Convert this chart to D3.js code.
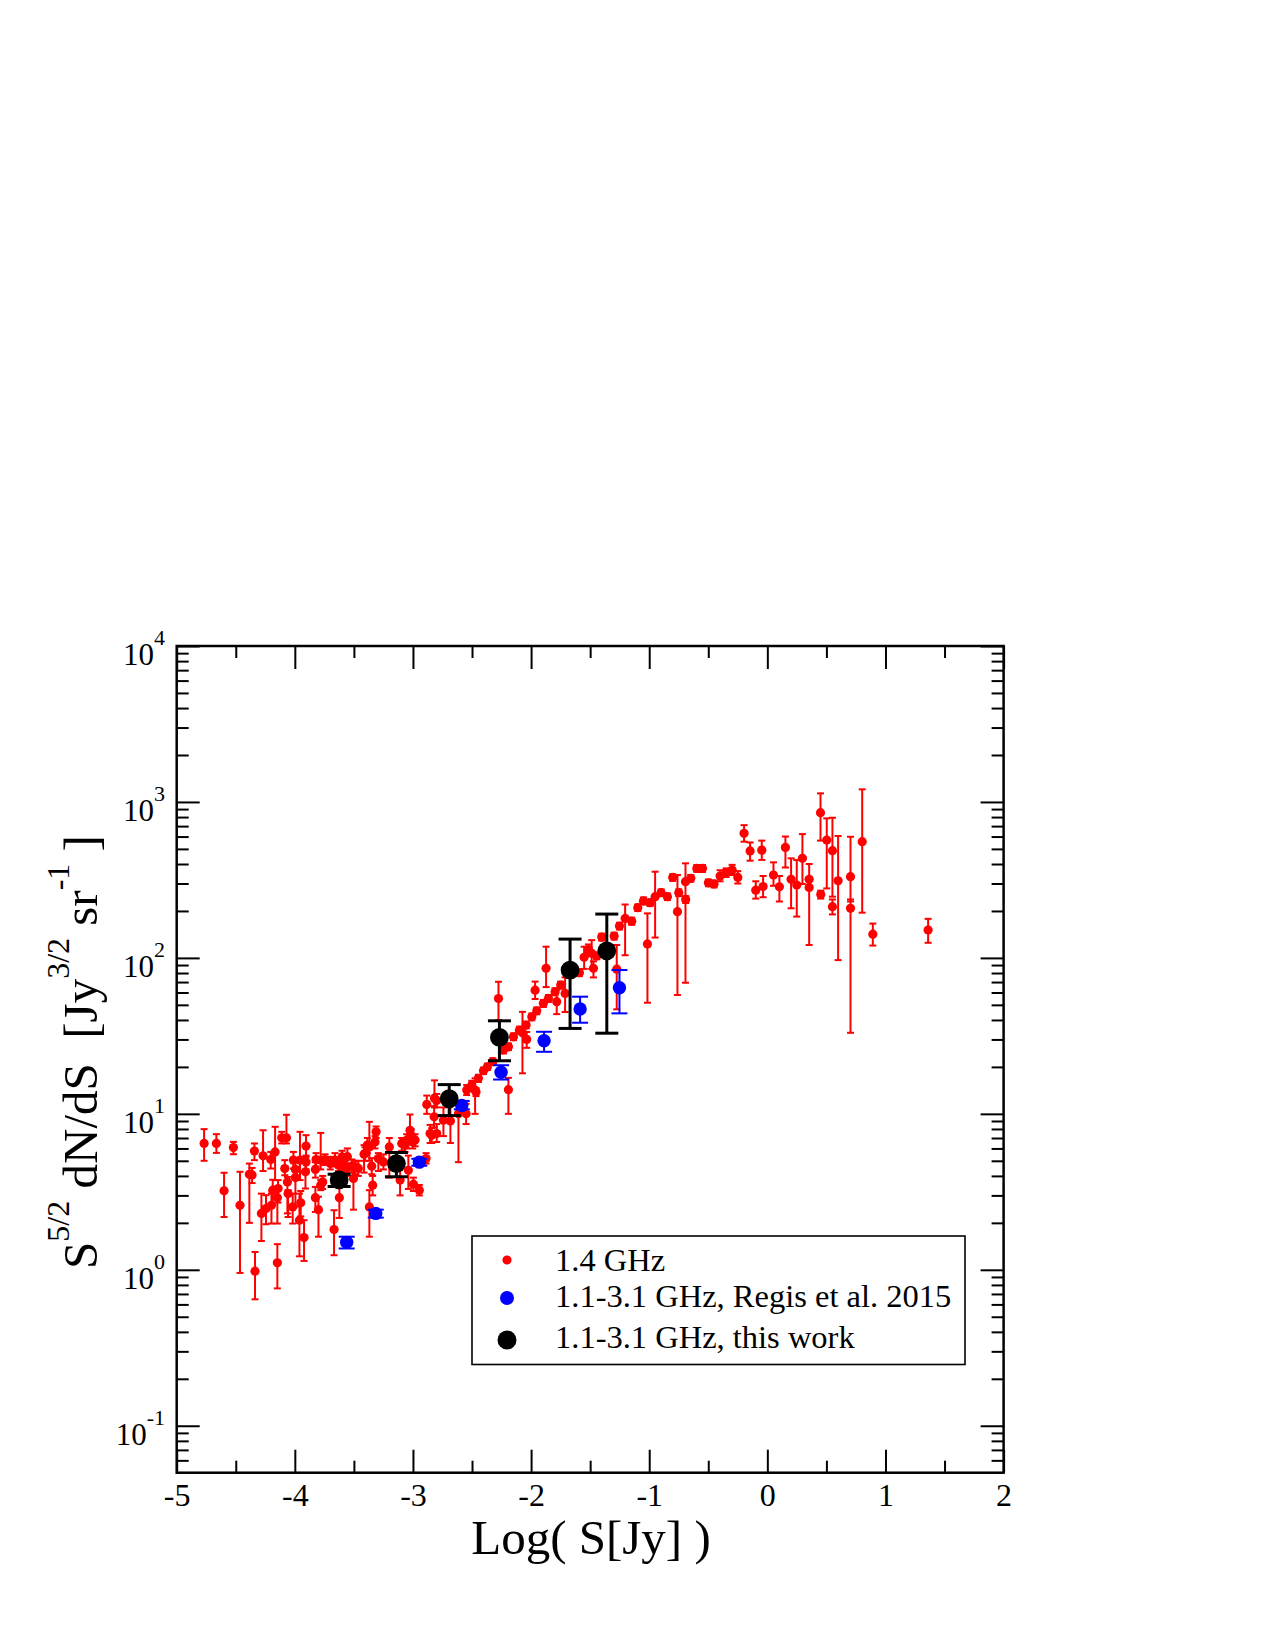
<!DOCTYPE html>
<html>
<head>
<meta charset="utf-8">
<script src="https://cdn.jsdelivr.net/npm/d3@7"></script>
<style>
  html, body { margin: 0; padding: 0; background: #fff; }
  svg { display: block; }
  svg text { font-family: "Liberation Serif", "Times New Roman", serif; white-space: pre; }
</style>
</head>
<body>
<svg id="chart" width="1275" height="1650"></svg>
<script>
// ---------------- data ----------------
const xMajorTicks = [-5, -4, -3, -2, -1, 0, 1, 2];
const xMinorTicks = [-4.5, -3.5, -2.5, -1.5, -0.5, 0.5, 1.5];
const yTickExponents = [-1, 0, 1, 2, 3, 4];

const legendLabels = ["1.4 GHz", "1.1-3.1 GHz, Regis et al. 2015", "1.1-3.1 GHz, this work"];

// [log S, S^{5/2} dN/dS, lower, upper]
const red14GHz = [
  [-4.768, 6.46, 5.00, 7.98], [-4.664, 6.46, 5.62, 7.41], [-4.599, 3.21, 2.18, 4.19],
  [-4.520, 6.08, 5.51, 6.61], [-4.464, 2.59, 0.955, 4.25], [-4.385, 4.10, 2.00, 4.80],
  [-4.362, 4.06, 3.60, 4.50], [-4.342, 5.77, 5.05, 6.46], [-4.337, 0.98, 0.647, 1.30],
  [-4.283, 2.30, 1.53, 3.08], [-4.269, 5.38, 4.30, 7.85], [-4.244, 2.47, 1.96, 3.01],
  [-4.204, 5.09, 4.46, 5.70], [-4.198, 2.59, 1.98, 3.08], [-4.187, 3.24, 2.60, 3.78],
  [-4.167, 5.70, 3.76, 8.26], [-4.148, 1.11, 0.76, 1.46], [-4.148, 2.90, 1.98, 3.40],
  [-4.142, 3.32, 2.70, 3.76], [-4.111, 7.02, 6.46, 7.67], [-4.085, 4.46, 4.04, 5.05],
  [-4.071, 7.02, 6.46, 9.86], [-4.063, 3.66, 2.30, 3.94], [-4.057, 3.08, 2.18, 3.24],
  [-4.018, 2.53, 1.98, 3.08], [-4.012, 5.05, 4.46, 5.70], [-3.995, 4.40, 3.90, 5.00],
  [-3.995, 3.91, 2.54, 4.57], [-3.961, 2.08, 1.22, 3.08], [-3.956, 5.05, 3.76, 7.67],
  [-3.950, 2.69, 2.20, 3.20], [-3.922, 1.61, 1.14, 2.08], [-3.910, 4.25, 3.32, 5.30],
  [-3.905, 6.21, 5.30, 7.30], [-3.905, 4.92, 4.40, 5.40], [-3.826, 4.40, 3.90, 4.90],
  [-3.826, 2.90, 2.35, 3.40], [-3.820, 5.09, 4.60, 5.60], [-3.800, 2.43, 1.63, 2.94],
  [-3.781, 5.05, 4.40, 7.55], [-3.781, 3.49, 3.24, 3.76], [-3.764, 3.66, 3.30, 4.00],
  [-3.744, 5.09, 4.70, 5.50], [-3.700, 4.80, 4.40, 5.30], [-3.668, 1.81, 1.24, 2.41],
  [-3.660, 5.05, 4.60, 5.60], [-3.630, 4.69, 4.30, 5.10], [-3.623, 2.90, 2.15, 3.55],
  [-3.600, 5.30, 4.80, 5.80], [-3.595, 4.81, 4.40, 5.30], [-3.565, 4.40, 4.00, 4.80],
  [-3.555, 5.31, 4.60, 6.00], [-3.518, 4.62, 4.20, 5.10], [-3.504, 3.85, 2.43, 4.80],
  [-3.490, 4.57, 4.10, 5.00], [-3.462, 4.47, 4.00, 5.00], [-3.414, 5.51, 4.20, 6.30],
  [-3.406, 5.57, 5.00, 6.10], [-3.386, 6.31, 5.60, 7.00], [-3.369, 6.14, 5.00, 8.89],
  [-3.369, 2.53, 1.63, 3.24], [-3.349, 4.62, 4.10, 5.20], [-3.341, 3.49, 3.00, 4.00],
  [-3.321, 6.61, 6.00, 7.20], [-3.312, 7.67, 7.00, 8.30], [-3.293, 5.17, 4.30, 5.60],
  [-3.250, 4.92, 4.40, 5.50], [-3.200, 6.14, 3.90, 7.00], [-3.109, 3.76, 3.00, 4.80],
  [-3.095, 6.46, 5.80, 7.00], [-3.067, 6.30, 5.70, 6.90], [-3.053, 6.78, 6.00, 7.40],
  [-3.039, 4.35, 3.30, 5.40], [-3.025, 7.85, 6.80, 9.90], [-3.016, 7.30, 6.60, 8.00],
  [-3.002, 6.61, 6.00, 7.20], [-2.996, 3.54, 3.20, 3.90], [-2.982, 6.80, 6.20, 7.40],
  [-2.946, 3.24, 3.00, 3.50], [-2.889, 5.17, 4.80, 5.60], [-2.883, 11.5, 10.0, 13.1],
  [-2.855, 7.48, 6.50, 8.50], [-2.841, 7.30, 6.50, 8.10], [-2.821, 9.57, 8.20, 11.2],
  [-2.818, 12.6, 11.0, 16.4], [-2.799, 7.48, 6.60, 8.60], [-2.799, 12.2, 11.0, 13.4],
  [-2.742, 9.10, 7.20, 11.0], [-2.683, 9.00, 6.50, 12.2], [-2.615, 10.0, 4.90, 11.6],
  [-2.550, 10.0, 8.60, 11.6], [-2.545, 14.2, 13.2, 15.3], [-2.502, 15.3, 14.3, 16.3],
  [-2.474, 14.2, 10.0, 16.9], [-2.466, 13.8, 13.0, 14.6], [-2.446, 16.9, 16.0, 17.8],
  [-2.403, 18.9, 18.0, 19.8], [-2.370, 20.0, 19.1, 21.0], [-2.324, 21.6, 20.6, 22.7],
  [-2.276, 54.9, 39.9, 70.3], [-2.234, 25.7, 24.4, 27.0], [-2.192, 26.9, 25.6, 28.3],
  [-2.192, 14.3, 10.0, 17.0], [-2.149, 31.2, 29.7, 32.8], [-2.099, 34.4, 32.7, 36.2],
  [-2.073, 33.1, 18.2, 45.1], [-2.042, 37.1, 35.3, 39.0], [-2.037, 30.0, 26.5, 33.5],
  [-1.994, 41.9, 39.8, 44.0], [-1.966, 62.1, 54.5, 70.5], [-1.952, 45.8, 43.5, 48.1],
  [-1.896, 51.1, 48.5, 53.7], [-1.873, 85.7, 65.0, 118], [-1.853, 55.0, 52.2, 57.8],
  [-1.797, 60.7, 57.6, 63.8], [-1.783, 52.4, 43.6, 62.5], [-1.749, 67.0, 63.6, 70.4],
  [-1.712, 59.2, 45.0, 75.0], [-1.591, 80.4, 76.4, 84.4], [-1.551, 101, 85, 118],
  [-1.515, 113, 103, 122], [-1.487, 107, 85, 130], [-1.472, 85.7, 75, 95],
  [-1.444, 103, 98, 108], [-1.402, 136, 129, 143], [-1.297, 138, 131, 145],
  [-1.275, 84.7, 46.8, 121], [-1.252, 160, 152, 168], [-1.204, 179, 104, 220],
  [-1.148, 172, 163, 181], [-1.097, 210, 200, 220], [-1.049, 232, 220, 244],
  [-1.015, 123, 51.6, 193], [-0.993, 226, 215, 237], [-0.950, 247, 135, 357],
  [-0.899, 262, 249, 275], [-0.846, 247, 235, 259], [-0.801, 328, 312, 344],
  [-0.761, 198, 57.8, 340], [-0.750, 262, 249, 275], [-0.693, 308, 69.3, 404],
  [-0.691, 237, 225, 249], [-0.648, 324, 308, 340], [-0.597, 375, 356, 394],
  [-0.549, 375, 356, 394], [-0.499, 303, 288, 318], [-0.451, 298, 283, 313],
  [-0.400, 335, 310, 365], [-0.349, 352, 330, 375], [-0.298, 366, 340, 395],
  [-0.250, 328, 300, 360], [-0.197, 629, 556, 710], [-0.146, 485, 420, 550],
  [-0.098, 272, 240, 310], [-0.047, 491, 425, 565], [-0.036, 287, 245, 335],
  [0.052, 340, 290, 410], [0.102, 286, 230, 335], [0.153, 511, 380, 600],
  [0.201, 319, 208, 435], [0.249, 293, 184, 424], [0.297, 435, 298, 622],
  [0.354, 319, 280, 400], [0.354, 283, 121, 330], [0.450, 853, 565, 1135],
  [0.452, 255, 240, 270], [0.503, 570, 279, 785], [0.551, 487, 247, 792],
  [0.551, 213, 190, 237], [0.599, 312, 96.8, 605], [0.704, 332, 230, 598],
  [0.704, 208, 33.1, 237], [0.803, 556, 195, 1205], [0.893, 142, 120, 166],
  [1.361, 151, 125, 178]
];

const blueRegis2015 = [
  [-3.561, 1.50, 1.37, 1.63], [-3.315, 2.30, 2.16, 2.43], [-2.946, 4.90, 4.65, 5.15],
  [-2.587, 11.3, 10.7, 12.1], [-2.254, 18.5, 16.6, 20.5], [-1.890, 29.4, 25.0, 33.6],
  [-1.585, 47.0, 38.4, 56.4], [-1.252, 64.4, 44.1, 83.6]
];

const blackThisWork = [
  [-3.625, 3.77, 3.42, 4.10], [-3.140, 4.80, 3.95, 5.65], [-2.693, 12.5, 9.75, 15.4],
  [-2.268, 30.9, 21.9, 39.5], [-1.670, 83.6, 35.3, 132], [-1.359, 111, 32.9, 191]
];

// ---------------- layout ----------------
const FONT = '"Liberation Serif", "Times New Roman", serif';
const L = 176.7, R = 1003.6, T = 646, B = 1472.7;
const svg = d3.select("#chart");
const x = d3.scaleLinear().domain([-5, 2]).range([L, R]);
const y = d3.scaleLog().domain([0.05, 10000]).range([B, T]);

const yMajor = yTickExponents.map(e => Math.pow(10, e));
const yMinor = [];
for (let e = -2; e <= 3; e++) for (let k = 2; k <= 9; k++) {
  const v = k * Math.pow(10, e);
  if (v > 0.05 && v < 10000) yMinor.push(v);
}

function styleAxis(g) {
  g.select(".domain").remove();
  g.attr("font-family", FONT);
  g.selectAll("line").attr("stroke", "#000").attr("stroke-width", 2);
}

// axes (ticks inward)
svg.append("g").attr("transform", `translate(0,${B})`)
  .call(d3.axisBottom(x).tickValues(xMajorTicks).tickSize(-23).tickPadding(11).tickFormat(d => String(d)))
  .call(styleAxis)
  .call(g => g.selectAll("text").attr("font-size", 32).attr("fill", "#000").style("font-family", FONT));
svg.append("g").attr("transform", `translate(0,${B})`)
  .call(d3.axisBottom(x).tickValues(xMinorTicks).tickSize(-12).tickFormat(""))
  .call(styleAxis);
svg.append("g").attr("transform", `translate(0,${T})`)
  .call(d3.axisTop(x).tickValues(xMajorTicks).tickSize(-23).tickFormat(""))
  .call(styleAxis);
svg.append("g").attr("transform", `translate(0,${T})`)
  .call(d3.axisTop(x).tickValues(xMinorTicks).tickSize(-12).tickFormat(""))
  .call(styleAxis);
svg.append("g").attr("transform", `translate(${L},0)`)
  .call(d3.axisLeft(y).tickValues(yMajor).tickSize(-23).tickFormat(""))
  .call(styleAxis);
svg.append("g").attr("transform", `translate(${L},0)`)
  .call(d3.axisLeft(y).tickValues(yMinor).tickSize(-12).tickFormat(""))
  .call(styleAxis);
svg.append("g").attr("transform", `translate(${R},0)`)
  .call(d3.axisRight(y).tickValues(yMajor).tickSize(-23).tickFormat(""))
  .call(styleAxis);
svg.append("g").attr("transform", `translate(${R},0)`)
  .call(d3.axisRight(y).tickValues(yMinor).tickSize(-12).tickFormat(""))
  .call(styleAxis);

// y tick labels 10^n
const yl = svg.append("g").selectAll("text").data(yTickExponents).join("text")
  .attr("x", 165).attr("y", e => y(Math.pow(10, e)) + 19)
  .attr("text-anchor", "end").attr("font-size", 31).attr("fill", "#000");
yl.append("tspan").text("10");
yl.append("tspan").attr("font-size", 22).attr("dy", -20).text(e => String(e));

// frame
svg.append("rect").attr("x", L).attr("y", T).attr("width", R - L).attr("height", B - T)
  .attr("fill", "none").attr("stroke", "#000").attr("stroke-width", 2.5);

// axis titles
svg.append("text").attr("x", 591).attr("y", 1554).attr("text-anchor", "middle")
  .attr("font-size", 49).attr("fill", "#000").text("Log( S[Jy] )");

const yt = svg.append("text").attr("transform", "translate(97,1052) rotate(-90)")
  .attr("text-anchor", "middle").attr("font-size", 49).attr("fill", "#000");
yt.append("tspan").text("S");
yt.append("tspan").attr("font-size", 32).attr("dy", -28).text("5/2");
yt.append("tspan").attr("dy", 28).text(" dN/dS\u00a0\u00a0[Jy");
yt.append("tspan").attr("font-size", 32).attr("dy", -28).text("3/2");
yt.append("tspan").attr("dy", 28).text(" sr");
yt.append("tspan").attr("font-size", 32).attr("dy", -28).text("-1");
yt.append("tspan").attr("dy", 28).text(" ]");

// series drawing
function drawSeries(data, color, r, capHalf, sw) {
  const g = svg.append("g");
  const eb = g.selectAll("g.eb").data(data).join("g").attr("class", "eb")
    .attr("stroke", color).attr("stroke-width", sw);
  eb.append("line").attr("x1", d => x(d[0])).attr("x2", d => x(d[0]))
    .attr("y1", d => y(d[2])).attr("y2", d => y(d[3]));
  eb.append("line").attr("x1", d => x(d[0]) - capHalf).attr("x2", d => x(d[0]) + capHalf)
    .attr("y1", d => y(d[2])).attr("y2", d => y(d[2]));
  eb.append("line").attr("x1", d => x(d[0]) - capHalf).attr("x2", d => x(d[0]) + capHalf)
    .attr("y1", d => y(d[3])).attr("y2", d => y(d[3]));
  g.selectAll("circle").data(data).join("circle")
    .attr("cx", d => x(d[0])).attr("cy", d => y(d[1])).attr("r", r).attr("fill", color);
}
drawSeries(red14GHz, "#ff0000", 4.6, 3.5, 2);
drawSeries(blueRegis2015, "#0000ff", 6.7, 8, 2);
drawSeries(blackThisWork, "#000000", 9.4, 11.5, 3);

// legend
const lg = svg.append("g");
lg.append("rect").attr("x", 472).attr("y", 1236).attr("width", 493).attr("height", 128.5)
  .attr("fill", "#fff").attr("stroke", "#000").attr("stroke-width", 1.6);
const legendColors = ["#ff0000", "#0000ff", "#000000"];
const legendR = [4.6, 7, 9.5];
const legendDotY = [1260, 1298, 1340];
const legendTextY = [1271, 1307, 1348];
legendLabels.forEach((t, i) => {
  lg.append("circle").attr("cx", 507).attr("cy", legendDotY[i]).attr("r", legendR[i]).attr("fill", legendColors[i]);
  lg.append("text").attr("x", 555).attr("y", legendTextY[i]).attr("font-size", 32.5).attr("fill", "#000").text(t);
});
</script>
</body>
</html>
